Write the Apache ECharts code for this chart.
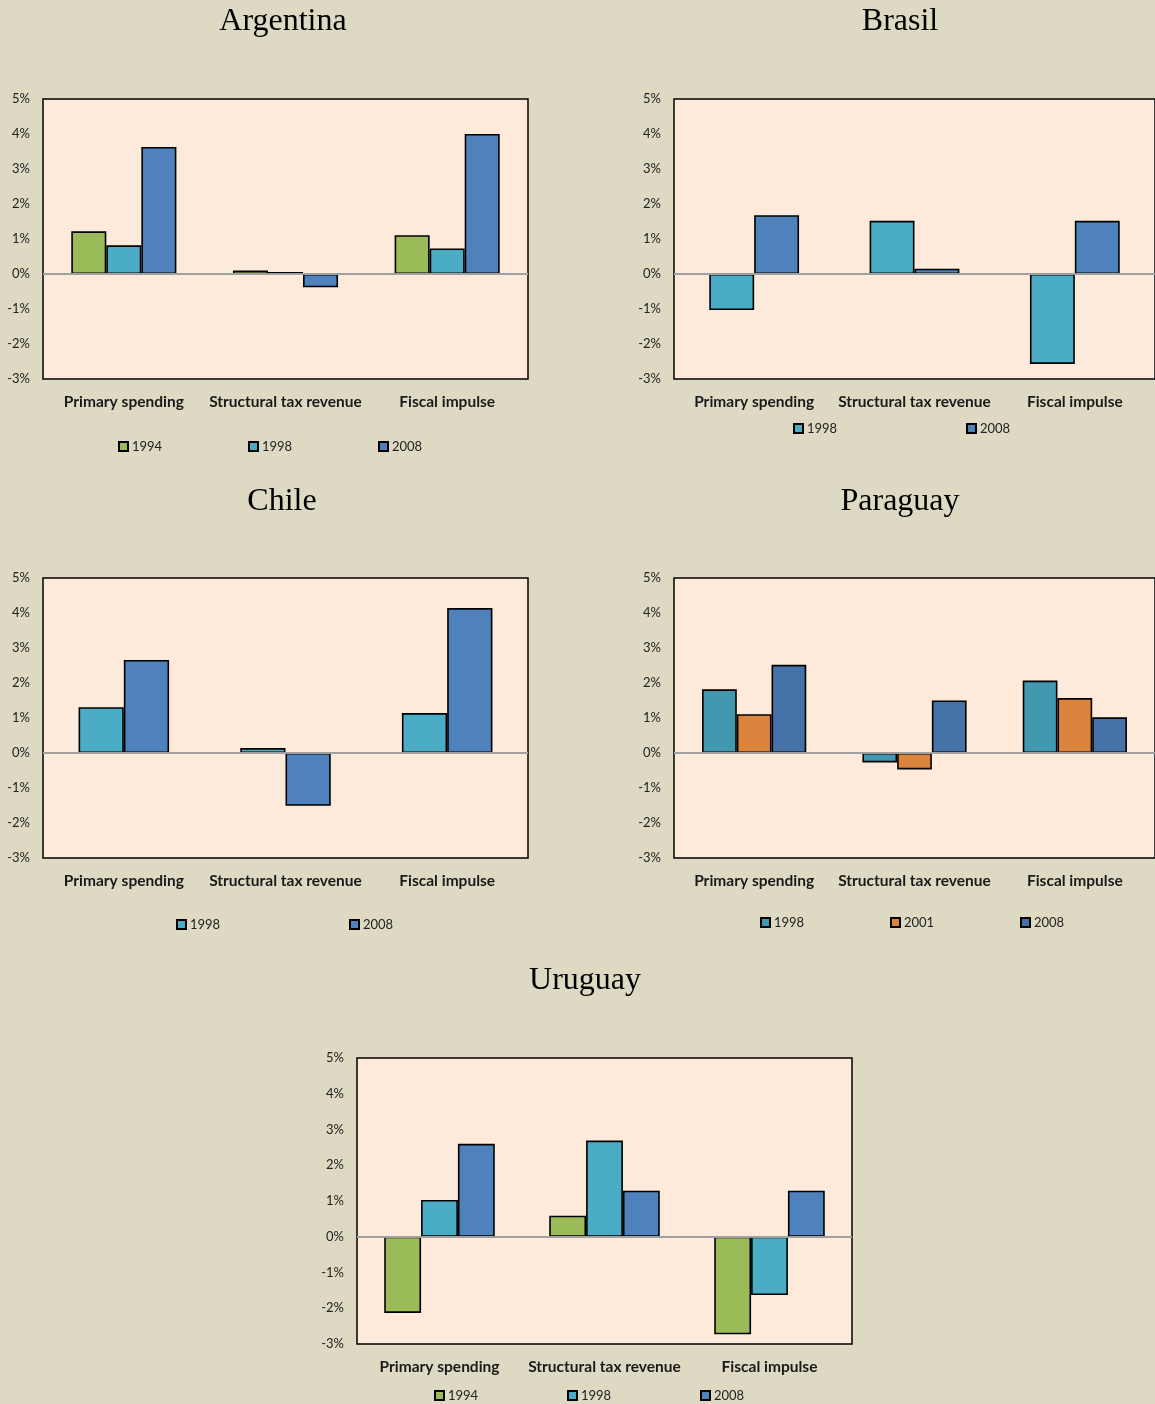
<!DOCTYPE html>
<html>
<head>
<meta charset="utf-8">
<script src="https://cdn.jsdelivr.net/npm/echarts@6/dist/echarts.min.js"></script>
<style>
  html, body { margin: 0; padding: 0; background: #DDD9C3; }
  #chart { width: 1155px; height: 1404px; }
</style>
</head>
<body>
<div id="chart"></div>
<script>
// categories and values (percent of GDP)
var categories = ['Primary spending', 'Structural tax revenue', 'Fiscal impulse'];

var argentina1994 = [1.22, 0.10, 1.11];
var argentina1998 = [0.82, 0.06, 0.73];
var argentina2008 = [3.63, -0.38, 4.00];

var brasil1998 = [-1.03, 1.52, -2.57];
var brasil2008 = [1.68, 0.15, 1.52];

var chile1998 = [1.31, 0.14, 1.14];
var chile2008 = [2.66, -1.51, 4.14];

var paraguay1998 = [1.82, -0.27, 2.07];
var paraguay2001 = [1.11, -0.47, 1.57];
var paraguay2008 = [2.52, 1.50, 1.02];

var uruguay1994 = [-2.13, 0.59, -2.73];
var uruguay1998 = [1.03, 2.69, -1.63];
var uruguay2008 = [2.60, 1.29, 1.29];

var yMin = -3, yMax = 5, yStep = 1;

var green = '#9BBB59', teal = '#4BACC6', blue = '#4F81BD';

// panels: title, grid box, series and legend item positions
var panels = [
	{ title: 'Argentina', tx: 283, ty: 6, grid: [43, 99, 485, 280], gap: '35%',
	  series: [['1994', argentina1994, green], ['1998', argentina1998, teal], ['2008', argentina2008, blue]],
	  legend: [[118, 440], [248, 440], [378, 440]] },
	{ title: 'Brasil', tx: 900, ty: 6, grid: [674, 99, 485, 280], gap: '44%',
	  series: [['1998', brasil1998, teal], ['2008', brasil2008, blue]],
	  legend: [[793, 422], [966, 422]] },
	{ title: 'Chile', tx: 282, ty: 486, grid: [43, 578, 485, 280], gap: '44%',
	  series: [['1998', chile1998, teal], ['2008', chile2008, blue]],
	  legend: [[176, 918], [349, 918]] },
	{ title: 'Paraguay', tx: 900, ty: 486, grid: [674, 578, 485, 280], gap: '35%',
	  series: [['1998', paraguay1998, '#4198AF'], ['2001', paraguay2001, '#DB843D'], ['2008', paraguay2008, '#4572A7']],
	  legend: [[760, 916], [890, 916], [1020, 916]] },
	{ title: 'Uruguay', tx: 585, ty: 965, grid: [357, 1058, 495, 286], gap: '33%',
	  series: [['1994', uruguay1994, green], ['1998', uruguay1998, teal], ['2008', uruguay2008, blue]],
	  legend: [[434, 1389], [567, 1389], [700, 1389]] }
];

var option = {
	backgroundColor: '#DDD9C3',
	animation: false,
	title: [],
	grid: [],
	xAxis: [],
	yAxis: [],
	legend: [],
	series: []
};

panels.forEach(function (p, i) {
	option.title.push({
		text: p.title,
		left: p.tx,
		top: p.ty,
		padding: 0,
		textAlign: 'center',
		textStyle: { fontFamily: 'Liberation Serif', fontSize: 32, fontWeight: 'normal', color: '#000' }
	});
	option.grid.push({
		left: p.grid[0], top: p.grid[1], width: p.grid[2], height: p.grid[3],
		show: true, backgroundColor: '#FDEADA', borderColor: '#000', borderWidth: 1.5
	});
	option.xAxis.push({
		type: 'category', gridIndex: i, data: categories,
		axisLine: { show: false, onZero: false },
		axisTick: { show: false },
		axisLabel: { interval: 0, margin: 15, fontFamily: 'Lato', fontWeight: 'bold', fontSize: 15.5, color: '#1a1a1a' }
	});
	option.yAxis.push({
		type: 'value', gridIndex: i, min: yMin, max: yMax, interval: yStep,
		splitLine: { show: false },
		axisLine: { show: false },
		axisTick: { show: false },
		axisLabel: { formatter: '{value}%', margin: 13, fontFamily: 'Lato', fontSize: 13, color: '#222' }
	});
	p.series.forEach(function (s, k) {
		var name = p.title + '|' + s[0];
		var ser = {
			name: name, type: 'bar', xAxisIndex: i, yAxisIndex: i,
			data: s[1],
			barGap: '0%', barCategoryGap: p.gap,
			itemStyle: { color: s[2], borderColor: '#000', borderWidth: 1.6 }
		};
		if (k === 0) {
			ser.markLine = {
				silent: true, symbol: 'none', label: { show: false },
				lineStyle: { color: '#A0A0A0', width: 2, type: 'solid' },
				data: [{ yAxis: 0 }]
			};
		}
		option.series.push(ser);
		option.legend.push({
			data: [name],
			left: p.legend[k][0], top: p.legend[k][1],
			padding: 0,
			itemWidth: 9, itemHeight: 9, itemGap: 4,
			icon: 'rect',
			selectedMode: false,
			formatter: function (n) { return n.split('|')[1]; },
			textStyle: { fontFamily: 'Lato', fontSize: 13, color: '#222', padding: [0, 0, 0, -1] }
		});
	});
});

var chart = echarts.init(document.getElementById('chart'));
chart.setOption(option);
</script>
</body>
</html>
